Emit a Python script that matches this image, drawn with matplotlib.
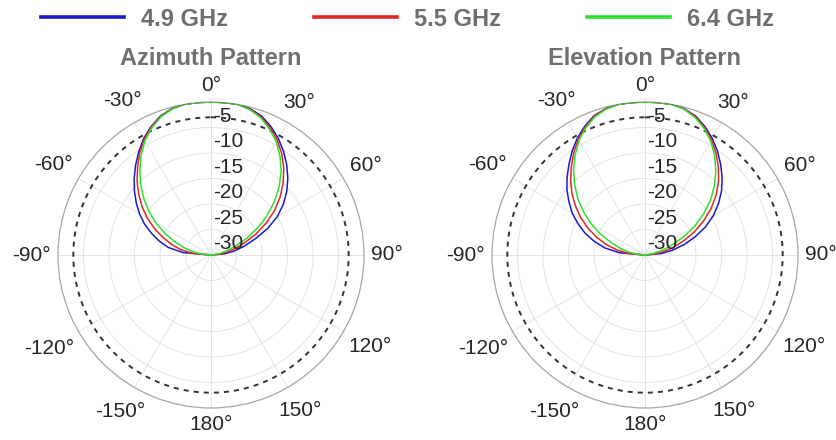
import numpy as np
import matplotlib
matplotlib.use("Agg")
import matplotlib.pyplot as plt
from matplotlib.lines import Line2D
from matplotlib.transforms import offset_copy

plt.rcParams['font.family'] = ['Liberation Sans', 'DejaVu Sans']

# Measured gain (dB) versus angle (degrees), -90..90 in 5 degree steps
angles_deg = list(range(-90, 95, 5))

az_49 = [-30, -24.5, -21.5, -19.5, -17.6, -15.6, -13.8, -12.1, -10.4, -8.7, -7.0, -5.3, -3.6, -2.2, -1.0, -0.3, 0, 0,
         0,
         0, 0, -0.3, -1.0, -2.2, -3.6, -5.2, -6.9, -8.7, -10.6, -12.7, -15.0, -17.8, -20.8, -23.2, -25.3, -27.3, -30]
az_55 = [-30, -26.5, -24.0, -22.0, -20.0, -17.8, -15.6, -13.5, -11.5, -9.5, -7.6, -5.6, -3.8, -2.3, -1.1, -0.3, 0, 0,
         0,
         0, 0, -0.4, -1.2, -2.5, -4.0, -5.8, -7.8, -10.0, -12.3, -14.8, -17.5, -20.3, -23.0, -25.2, -27.0, -28.5, -30]
az_64 = [-30, -28.3, -26.5, -24.6, -22.5, -20.1, -17.6, -15.2, -12.8, -10.5, -8.3, -6.1, -4.1, -2.5, -1.2, -0.4, 0, 0,
         0,
         0, 0, -0.5, -1.4, -2.8, -4.4, -6.4, -8.6, -11.1, -13.8, -16.6, -19.5, -22.3, -25.0, -26.8, -28.3, -29.3, -30]

el_49 = [-30, -25.0, -22.0, -19.7, -17.5, -15.5, -13.5, -11.8, -10.0, -8.4, -6.8, -5.1, -3.5, -2.1, -0.9, -0.3, 0, 0,
         0,
         0, 0, -0.3, -1.0, -2.2, -3.6, -5.2, -6.9, -8.6, -10.4, -12.4, -14.5, -16.9, -19.5, -22.0, -24.5, -26.8, -30]
el_55 = [-30, -27.0, -24.5, -22.2, -20.0, -17.7, -15.5, -13.4, -11.3, -9.4, -7.5, -5.6, -3.8, -2.3, -1.0, -0.3, 0, 0,
         0,
         0, 0, -0.3, -1.1, -2.4, -3.9, -5.7, -7.6, -9.6, -11.8, -14.2, -16.8, -19.4, -22.0, -24.3, -26.5, -28.2, -30]
el_64 = [-30, -28.5, -27.0, -25.0, -23.0, -20.4, -17.8, -15.3, -12.8, -10.5, -8.2, -6.1, -4.1, -2.5, -1.2, -0.4, 0, 0,
         0,
         0, 0, -0.4, -1.3, -2.6, -4.2, -6.2, -8.4, -10.7, -13.2, -16.0, -18.8, -21.7, -24.5, -26.6, -28.5, -29.4, -30]

series_labels = ['4.9 GHz', '5.5 GHz', '6.4 GHz']
series_colors = ['#1a1ac8', '#e32626', '#2fe02f']
panel_titles = ['Azimuth Pattern', 'Elevation Pattern']
panel_data = [[az_49, az_55, az_64], [el_49, el_55, el_64]]

r_min, r_max = -30, 0
r_ticks = [-30, -25, -20, -15, -10, -5]
half_power_db = -3
theta_ticks = [0, 30, 60, 90, 120, 150, 180, -150, -120, -90, -60, -30]
theta_ticklabels = [f'{t}°' for t in theta_ticks]

W, H = 837, 440
DPI = 100
fig = plt.figure(figsize=(W / DPI, H / DPI), dpi=DPI)
fig.patch.set_facecolor('white')

R_px = 153
centers = [(211, 255), (645, 255)]

theta = np.deg2rad(angles_deg)
full_circle = np.linspace(0, 2 * np.pi, 721)

axes = []
for (cx, cy), title, curves in zip(centers, panel_titles, panel_data):
    rect = [(cx - R_px) / W, (H - cy - R_px) / H, 2 * R_px / W, 2 * R_px / H]
    ax = fig.add_axes(rect, projection='polar')
    ax.set_theta_zero_location('N')
    ax.set_theta_direction(-1)

    # -3 dB reference circle
    ax.plot(full_circle, np.full_like(full_circle, half_power_db), color='#333333',
            lw=1.4, ls=(0, (2.6, 2.6)), zorder=3)

    for vals, col in zip(curves, series_colors):
        ax.plot(theta, vals, color=col, lw=1.1, zorder=4)

    ax.set_xticks(np.deg2rad(np.mod(theta_ticks, 360)))
    ax.set_xticklabels(theta_ticklabels, fontsize=15, color='#262626')
    ax.set_thetalim(0, 2 * np.pi)
    ax.set_rlim(r_min, r_max)
    ax.tick_params(axis='x', length=0)
    ax.set_yticks(r_ticks[1:])
    ax.set_yticklabels([])
    ax.grid(True, color='#e4e4e4', lw=0.7)
    ax.spines['polar'].set_color('#a6a6a6')
    ax.spines['polar'].set_linewidth(0.9)

    lbl_tr = offset_copy(ax.transData, fig=fig, x=1.5, y=8, units='points')
    for rv in r_ticks:
        ax.text(0, rv, f'{rv}', transform=lbl_tr, ha='left', va='center',
                fontsize=15, color='#262626', zorder=6)

    ax.set_title(title, y=1.0 + 37 / (2 * R_px), pad=0, fontsize=17,
                 fontweight='bold', color='#707070', va='baseline')
    axes.append(ax)

handles = [Line2D([], [], color=c, lw=2.6) for c in series_colors]
fig.legend(handles, series_labels, loc='center', bbox_to_anchor=(0.487, 1 - 19 / H),
           ncol=3, frameon=False, handlelength=3.5, handletextpad=0.72,
           columnspacing=3.65, prop={'size': 17, 'weight': 'bold'},
           labelcolor='#6e6e6e')

# keep a constant gap between the rim and the near edge of each angle label
fig.canvas.draw()
renderer = fig.canvas.get_renderer()
gap_px = 7
px_per_pt = DPI / 72
for ax in axes:
    for tick in ax.xaxis.get_major_ticks():
        bb = tick.label1.get_window_extent(renderer)
        ang = tick.get_loc()
        half_extent = abs(np.sin(ang)) * bb.width / 2 + abs(np.cos(ang)) * bb.height / 2
        tick.set_pad((gap_px + half_extent) / px_per_pt - 7)

fig.savefig('out.png', dpi=DPI, facecolor='white')
